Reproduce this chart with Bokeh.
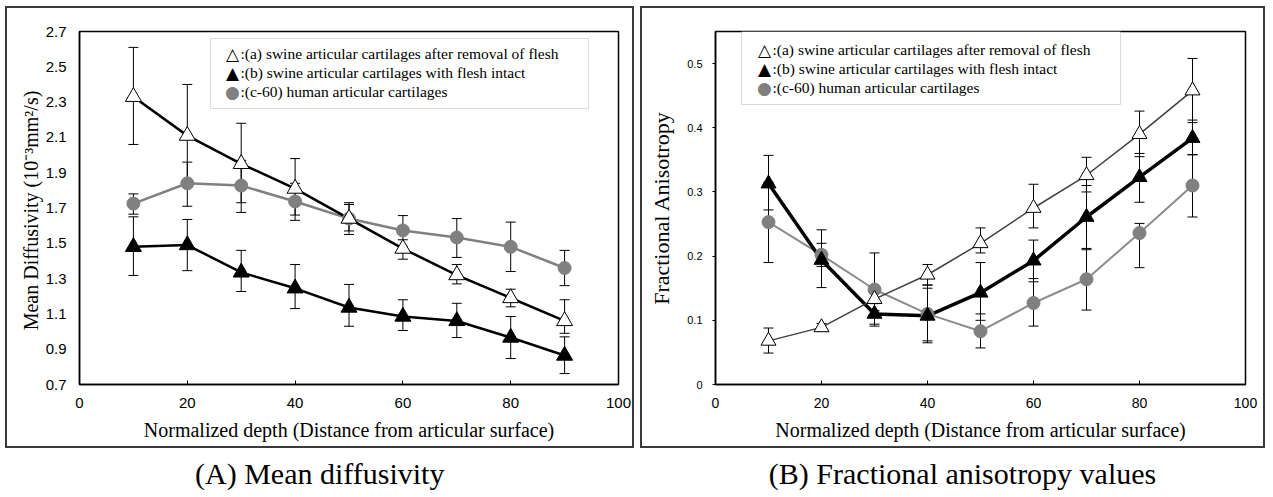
from bokeh.plotting import figure
from bokeh.models import FixedTicker, BoxAnnotation, Spacer, Label
from bokeh.layouts import row, column
from bokeh.embed import file_html
from bokeh.resources import INLINE

# ---------------- data ----------------
depth = [10, 20, 30, 40, 50, 60, 70, 80, 90]

# (A) Mean diffusivity (10^-3 mm^2/s)
md_a = [2.33, 2.11, 1.95, 1.81, 1.64, 1.47, 1.32, 1.19, 1.06]
md_a_hi = [2.61, 2.40, 2.18, 1.98, 1.73, 1.52, 1.38, 1.24, 1.18]
md_a_lo = [2.06, 1.82, 1.73, 1.66, 1.55, 1.41, 1.27, 1.14, 0.99]

md_b = [1.48, 1.49, 1.335, 1.245, 1.136, 1.085, 1.06, 0.966, 0.864]
md_b_hi = [1.65, 1.635, 1.46, 1.38, 1.267, 1.18, 1.16, 1.085, 0.97]
md_b_lo = [1.318, 1.345, 1.227, 1.13, 1.03, 1.006, 0.966, 0.847, 0.762]

md_c = [1.725, 1.84, 1.827, 1.737, 1.64, 1.573, 1.533, 1.48, 1.36]
md_c_hi = [1.78, 1.96, 1.97, 1.84, 1.72, 1.657, 1.64, 1.62, 1.46]
md_c_lo = [1.665, 1.71, 1.675, 1.63, 1.57, 1.48, 1.42, 1.34, 1.26]

# (B) Fractional anisotropy
fa_a = [0.068, 0.089, 0.133, 0.171, 0.22, 0.275, 0.326, 0.39, 0.458]
fa_a_hi = [0.088, 0.095, 0.15, 0.187, 0.244, 0.312, 0.354, 0.426, 0.508]
fa_a_lo = [0.049, 0.083, 0.115, 0.155, 0.205, 0.244, 0.30, 0.355, 0.408]

fa_b = [0.313, 0.194, 0.11, 0.107, 0.143, 0.193, 0.261, 0.323, 0.384]
fa_b_hi = [0.357, 0.241, 0.126, 0.15, 0.19, 0.225, 0.31, 0.36, 0.412]
fa_b_lo = [0.272, 0.151, 0.094, 0.065, 0.10, 0.16, 0.21, 0.284, 0.358]

fa_c = [0.253, 0.202, 0.148, 0.11, 0.083, 0.127, 0.164, 0.236, 0.31]
fa_c_hi = [0.315, 0.22, 0.205, 0.155, 0.11, 0.165, 0.212, 0.251, 0.358]
fa_c_lo = [0.19, 0.184, 0.091, 0.068, 0.057, 0.091, 0.116, 0.182, 0.261]

labels = [":(a) swine articular cartilages after removal of flesh",
          ":(b) swine articular cartilages with flesh intact",
          ":(c-60) human articular cartilages"]
symbols = ["\u25b3", "\u25b2", "\u25cf"]
captions = ["(A) Mean diffusivity", "(B) Fractional anisotropy values"]
x_label = "Normalized depth (Distance from articular surface)"

x_ticks = [0, 20, 40, 60, 80, 100]
md_ticks = [0.7, 0.9, 1.1, 1.3, 1.5, 1.7, 1.9, 2.1, 2.3, 2.5, 2.7]
fa_ticks = [0, 0.1, 0.2, 0.3, 0.4, 0.5]

SERIF = "Liberation Serif"
SANS = "Liberation Sans"
GRAY = "#808080"
FRAME_CSS = {"border": "2px solid #3a3a3a"}
SYMBOL_COLORS = ["black", "black", GRAY]


def panel(width, height, bl, br, bt, bb, yr, yticks, ylabel, ylabel_size, series,
          xtick_size, ytick_size, leg_box, leg_sym_x, leg_rows_y, ytick_out, ylab_standoff):
    p = figure(width=width, height=height, x_range=(0, 100), y_range=yr,
               output_backend="svg", toolbar_location=None,
               min_border_left=bl, min_border_right=br,
               min_border_top=bt, min_border_bottom=bb, styles=FRAME_CSS)
    p.xgrid.visible = False
    p.ygrid.visible = False
    p.outline_line_color = "black"
    p.outline_line_width = 1.5
    p.background_fill_color = "white"
    p.border_fill_color = "white"

    p.xaxis.ticker = FixedTicker(ticks=x_ticks)
    p.yaxis.ticker = FixedTicker(ticks=yticks)
    p.xaxis.minor_tick_line_color = None
    p.yaxis.minor_tick_line_color = None
    for ax in (p.xaxis, p.yaxis):
        ax.axis_line_color = "black"
        ax.axis_line_width = 1.5
        ax.major_tick_line_color = "black"
        ax.major_label_text_font = SANS
        ax.major_label_text_color = "black"
        ax.axis_label_text_font = SERIF
        ax.axis_label_text_font_style = "normal"
        ax.axis_label_text_color = "black"
    p.xaxis.major_label_text_font_size = xtick_size
    p.yaxis.major_label_text_font_size = ytick_size
    p.xaxis.axis_label_text_font_size = "20px"
    p.yaxis.axis_label_text_font_size = ylabel_size
    p.xaxis.major_tick_in = 4
    p.xaxis.major_tick_out = 0
    p.xaxis.major_label_standoff = 13
    p.xaxis.axis_label_standoff = 8
    p.xaxis.axis_label = x_label
    p.yaxis.major_tick_in = 0
    p.yaxis.major_tick_out = ytick_out
    p.yaxis.major_label_standoff = 13 - ytick_out
    p.yaxis.axis_label_standoff = ylab_standoff
    p.yaxis.axis_label = ylabel

    for (vals, hi, lo, lcol, lw, marker, fill, msize) in series:
        p.line(depth, vals, line_color=lcol, line_width=lw)
    for (vals, hi, lo, lcol, lw, marker, fill, msize) in series:
        p.segment(x0=depth, y0=lo, x1=depth, y1=hi, line_color="black", line_width=1)
        p.scatter(depth, hi, marker="dash", size=10, line_color="black", line_width=1)
        p.scatter(depth, lo, marker="dash", size=10, line_color="black", line_width=1)
    for (vals, hi, lo, lcol, lw, marker, fill, msize) in series:
        lc = "black" if marker == "triangle" else fill
        p.scatter(depth, vals, marker=marker, size=msize, fill_color=fill,
                  line_color=lc, line_width=1)

    # legend: box, symbol and text (frame-relative screen units)
    bx0, by0, bx1, by1 = leg_box
    p.add_layout(BoxAnnotation(left=bx0, right=bx1, bottom=by0, top=by1,
                               left_units="screen", right_units="screen",
                               top_units="screen", bottom_units="screen",
                               fill_color="white", fill_alpha=1,
                               line_color="#888888", line_width=1))
    for sym, col, lab, ry in zip(symbols, SYMBOL_COLORS, labels, leg_rows_y):
        p.add_layout(Label(x=leg_sym_x, y=ry, x_units="screen", y_units="screen",
                           text=sym, text_align="center", text_baseline="middle",
                           text_font="DejaVu Sans", text_font_size="17px",
                           text_color=col))
        p.add_layout(Label(x=leg_sym_x + 8, y=ry, x_units="screen", y_units="screen",
                           text=lab, text_align="left", text_baseline="middle",
                           text_font=SERIF, text_font_size="15.5px",
                           text_color="black"))
    return p


def caption_fig(width, height, text, xc):
    c = figure(width=width, height=height, x_range=(0, 1), y_range=(0, 1),
               output_backend="svg", toolbar_location=None,
               x_axis_type=None, y_axis_type=None, min_border=0)
    c.xgrid.visible = False
    c.ygrid.visible = False
    c.outline_line_color = None
    c.text(x=[xc], y=[0.44], text=[text], text_align="center", text_baseline="middle",
           text_font=SERIF, text_font_size="30px", text_color="black")
    return c


series_a = [
    (md_c, md_c_hi, md_c_lo, GRAY, 2.5, "circle", GRAY, 13),
    (md_b, md_b_hi, md_b_lo, "black", 2.5, "triangle", "black", 16),
    (md_a, md_a_hi, md_a_lo, "black", 2.5, "triangle", "white", 16),
]
series_b = [
    (fa_c, fa_c_hi, fa_c_lo, "#8c8c8c", 2, "circle", GRAY, 13),
    (fa_b, fa_b_hi, fa_b_lo, "black", 3.5, "triangle", "black", 15),
    (fa_a, fa_a_hi, fa_a_lo, "#404040", 1.5, "triangle", "white", 15),
]

pA = panel(629, 442, 72, 18, 23, 66, (0.7, 2.7), md_ticks,
           "Mean Diffusivity  (10\u207b\u00b3mm\u00b2/s)", "20px", series_a,
           "15px", "15px", (131, 276, 509, 346), 153, (331, 312, 293), 0, 1)
pB = panel(625, 442, 73, 22, 22, 64, (0, 0.55), fa_ticks,
           "Fractional Anisotropy", "22px", series_b,
           "14px", "11px", (26, 280, 405, 353), 49, (335, 316, 297), 3, 10)
pB.yaxis.major_label_overrides = {0: "0"}

capA = caption_fig(641, 45, captions[0], 0.498)
capB = caption_fig(632, 45, captions[1], 0.508)

layout = column(Spacer(height=6),
                row(Spacer(width=5), pA, Spacer(width=6), pB),
                row(capA, capB))
open("out.html", "w").write(file_html(layout, INLINE))
